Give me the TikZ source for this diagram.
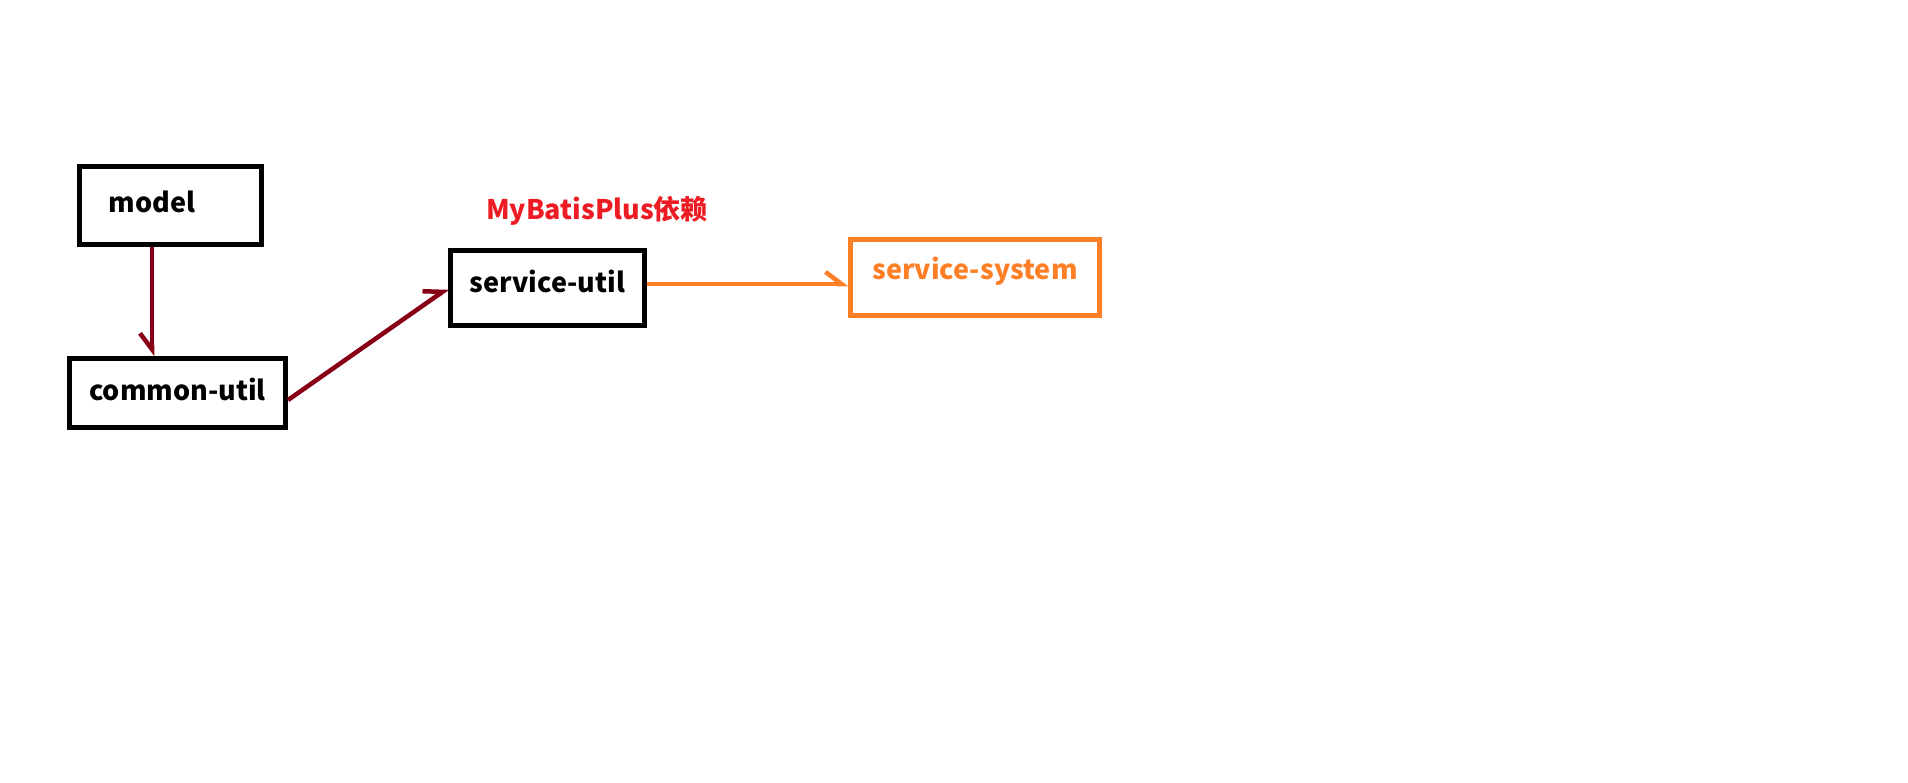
\documentclass[tikz,border=0pt]{standalone}
\usepackage{fontspec}
\setmainfont{Noto Sans CJK SC}
\usepackage{xcolor}
\definecolor{PaintRed}{RGB}{237,28,36}
\definecolor{PaintOrange}{RGB}{255,127,39}
\definecolor{PaintMaroon}{RGB}{136,0,21}
\usetikzlibrary{positioning}
\usetikzlibrary{calc}
\usetikzlibrary{arrows.meta}

\begin{document}
\begin{tikzpicture}[
    x = 1pt, y = -1pt
    , box/.style = {
      , draw = black
      , line width = 5pt
      , inner sep = 0pt
      , text height = 22pt
      , text depth = 7pt
      , font = \fontsize{27}{30}\selectfont\bfseries
    }
    , highbox/.style = {
      box,
      text height = 20pt,
      text depth = 11pt
    }
    , orangebox/.style = {
      highbox,
      draw = PaintOrange,
      text = PaintOrange,
      text depth = 17pt,
      line width = 4.5pt
    }
    , deparrow/.style = {
      , -{Straight Barb[length=16pt, width=24pt, #1]}
      , draw = PaintMaroon
      , line width = 4.5pt
    }
    , orangearrow/.style = {
      deparrow = left,
      draw = PaintOrange
    }
    , redlabel/.style = {
      , text = PaintRed
      , font = \fontsize{27}{30}\selectfont\bfseries
    }
    ]
    \useasboundingbox (0,0) rectangle (1908,782);

    \node[box, minimum width = 182pt, minimum height = 78pt] (model) at (170,205) {\hspace*{-36pt}model};
    \node[box, minimum width = 216pt, minimum height = 69pt] (common) at (177.5,393) {common-util};
    \node[highbox, minimum width = 194pt, minimum height = 75pt] (serviceutil) at (547.5,288) {service-util};
    \node[orangebox, minimum width = 249pt, minimum height = 76pt] (servicesystem) at (975,277.5) {service-system};

    \node[redlabel] (mbplabel) at (597,211) {MyBatisPlus依赖};

    \draw[deparrow = right] ([xshift=-18pt]model.south) -- ([xshift=-18pt]model.south |- common.north);
    \draw[deparrow = left] ([yshift=-7pt]common.east) -- (serviceutil.west);
    \draw[orangearrow] ([yshift=4pt]serviceutil.east) -- ($ (serviceutil.east -| servicesystem.west) + (0,-4) $);
  \end{tikzpicture}
\end{document}
